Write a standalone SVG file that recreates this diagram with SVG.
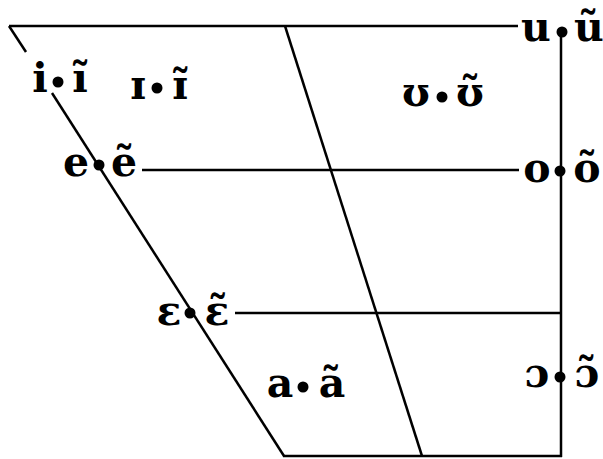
<svg xmlns="http://www.w3.org/2000/svg" width="603" height="459" viewBox="0 0 603 459">
<style>
.ln{stroke:#000;stroke-width:2.5;fill:none;stroke-linecap:butt}
.t{font-family:"DejaVu Serif","Liberation Serif",serif;font-weight:bold;font-size:41px;text-anchor:middle;fill:#000}
.d{fill:#000}
</style>
<rect width="603" height="459" fill="#fff"/>
<g id="connectors">
<line class="ln" x1="9" y1="26" x2="518" y2="26"/>
<line class="ln" x1="9" y1="26" x2="26" y2="52"/>
<line class="ln" x1="52" y1="93" x2="284" y2="456"/>
<line class="ln" x1="285" y1="26" x2="422" y2="456"/>
<line class="ln" x1="561" y1="32" x2="561" y2="457"/>
<line class="ln" x1="283" y1="456" x2="562" y2="456"/>
<line class="ln" x1="142" y1="170" x2="519" y2="170"/>
<line class="ln" x1="235" y1="313" x2="561" y2="313"/>
</g>
<g id="i"><text class="t" x="40" y="92">i</text><circle class="d" cx="58" cy="82" r="5.5"/><text class="t" x="80" y="92">ĩ</text></g>
<g id="I"><text class="t" x="138" y="99">ɪ</text><circle class="d" cx="157" cy="88" r="5.5"/><text class="t" x="180" y="99">ɪ̃</text></g>
<g id="u"><text class="t" x="536" y="41">u</text><circle class="d" cx="562" cy="32" r="5.5"/><text class="t" x="589" y="41">ũ</text></g>
<g id="U"><text class="t" x="416" y="106">ʊ</text><circle class="d" cx="442" cy="97" r="5.5"/><text class="t" x="470" y="106">ʊ̃</text></g>
<g id="e"><text class="t" x="76" y="176">e</text><circle class="d" cx="99" cy="165" r="5.5"/><text class="t" x="124" y="176">ẽ</text></g>
<g id="o"><text class="t" x="537" y="182">o</text><circle class="d" cx="560" cy="171" r="5.5"/><text class="t" x="587" y="182">õ</text></g>
<g id="E"><text class="t" x="169" y="325">ɛ</text><circle class="d" cx="190" cy="313" r="5.5"/><text class="t" x="217" y="325">ɛ̃</text></g>
<g id="a"><text class="t" x="280" y="397">a</text><circle class="d" cx="303" cy="387" r="5.5"/><text class="t" x="332" y="397">ã</text></g>
<g id="O"><text class="t" x="537" y="387">ɔ</text><circle class="d" cx="560" cy="377" r="5.5"/><text class="t" x="587" y="387">ɔ̃</text></g>
</svg>
